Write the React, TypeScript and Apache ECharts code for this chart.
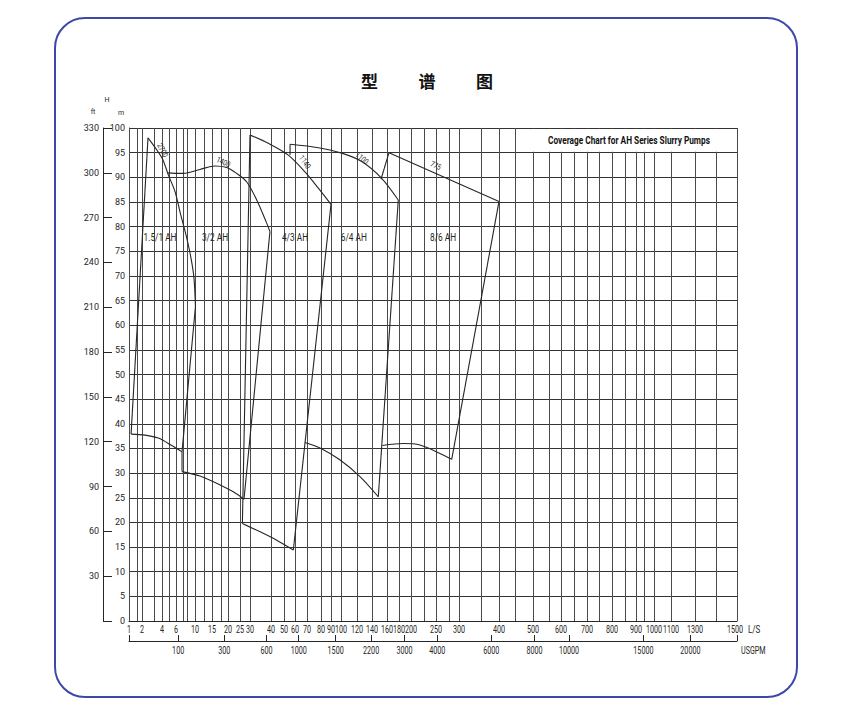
import React, { useEffect, useRef } from "react";
import * as echarts from "echarts";

// Flow ruling of the chart paper: [flow in L/S, distance along the flow axis]
const FLOW_RULING: [number, number][] = [
  [1, 0], [1.5, 8], [2, 13], [3, 25], [4, 33], [5, 40], [6, 47], [7, 54], [8, 58],
  [10, 66], [12, 75], [15, 83], [18, 92], [20, 99], [25, 111], [30, 121], [40, 142],
  [50, 155], [60, 166], [70, 178], [80, 192], [90, 202], [100, 212], [120, 228],
  [140, 243], [160, 258], [180, 270], [200, 282], [225, 295], [250, 307], [275, 320],
  [300, 330], [350, 352], [400, 370], [450, 386], [500, 404], [550, 420], [600, 432],
  [650, 445], [700, 458], [750, 470], [800, 483], [850, 496], [900, 507], [950, 515],
  [1000, 525], [1100, 542], [1300, 566], [1400, 587], [1500, 608],
];
const FLOW_AXIS_LENGTH = 608;

const FLOW_LABELS_LS = [
  1, 2, 4, 6, 10, 15, 20, 25, 30, 40, 50, 60, 70, 80, 90, 100, 120, 140, 160, 180,
  200, 250, 300, 400, 500, 600, 700, 800, 900, 1000, 1100, 1300, 1500,
];
const FLOW_LABELS_USGPM = [100, 300, 600, 1000, 1500, 2200, 3000, 4000, 6000, 8000, 10000, 15000, 20000];
const LS_PER_USGPM = 0.0630902;

// Pump envelopes: [flow L/S, head m]
const AH15_LEFT = [[1.13, 37.9], [2.5, 98.0]];
const AH15_UPPER = [[2.5, 98.0], [4.0, 93.9], [4.9, 90.5], [5.86, 87.1], [6.57, 83.0], [7.75, 78.3], [9.0, 73.6], [9.75, 69.5], [10.1, 63.8]];
const AH15_RIGHT = [[10.1, 63.8], [6.86, 34.3]];
const AH15_LOWER = [[1.13, 37.9], [2.25, 37.7], [3.54, 37.1], [5.39, 35.6], [6.86, 34.3]];

const AH32_UPPER = [[4.8, 90.9], [5.86, 90.8], [7.1, 90.8], [11.1, 91.6], [16, 92.3], [19.6, 92.0], [23.6, 90.8], [28.3, 89.1], [33.2, 85.4], [37.95, 80.7], [39.5, 79.0]];
const AH32_RIGHT = [[39.5, 79.0], [27, 24.7]];
const AH32_LEFT = [[6.86, 34.3], [6.86, 30.3]];
const AH32_LOWER = [[6.86, 30.3], [11.1, 29.4], [17.7, 27.6], [22.2, 26.2], [27, 24.7]];

const AH43_LEFT = [[26.2, 19.8], [30, 98.6]];
const AH43_UPPER = [[30, 98.6], [38.7, 96.9], [53.9, 94.5], [68.3, 91.1], [78.1, 87.8], [90, 84.5]];
const AH43_RIGHT = [[90, 84.5], [58.5, 14.4]];
const AH43_LOWER = [[26.2, 19.8], [34.8, 18.1], [44.4, 16.4], [58.5, 14.4]];

const AH64_LEFT = [[55.5, 94.5], [55.5, 96.7]];
const AH64_UPPER = [[55.5, 96.7], [78.1, 96.0], [100.9, 94.9], [126.3, 93.2], [152.9, 89.8], [178.8, 85.4]];
const AH64_RIGHT = [[178.8, 85.4], [148.4, 25.2]];
const AH64_LOWER = [[68.3, 36.2], [80, 35.0], [98.8, 32.7], [124, 29.3], [148.4, 25.2]];

const AH86_LEFT = [[152, 89.6], [163.3, 95.0]];
const AH86_UPPER = [[163.3, 95.0], [400, 85.1]];
const AH86_RIGHT = [[400, 85.1], [281.8, 32.8]];
const AH86_LOWER = [[153.7, 35.6], [187.2, 36.0], [217.3, 35.7], [257.7, 34.0], [281.8, 32.8]];

const PUMP_NAMES = ["1.5/1 AH", "3/2 AH", "4/3 AH", "6/4 AH", "8/6 AH"];
const PUMP_NAME_AT = [[3.75, 77.9], [16, 77.9], [60, 77.8], [116, 77.8], [263.5, 77.9]];

const SPEED_TEXT = ["2700", "1400", "1140", "1100", "775"];
const SPEED_AT = [[4.1, 95.5], [18.7, 93.1], [68.3, 93.1], [126.7, 93.9], [249.6, 92.4]];
const SPEED_ANGLE = [-62, -25, -55, -40, -25];

const CHART_TITLE = ["型", "谱", "图"];
const BOX_TITLE = "Coverage Chart for AH Series Slurry Pumps";

function flowToAxis(q: number): number {
  const r = FLOW_RULING;
  if (q <= r[0][0]) return r[0][1];
  for (let i = 1; i < r.length; i++) {
    if (q <= r[i][0]) {
      const [q0, p0] = r[i - 1];
      const [q1, p1] = r[i];
      return p0 + ((q - q0) / (q1 - q0)) * (p1 - p0);
    }
  }
  return r[r.length - 1][1];
}

const INK = "#262626";
const FONT = "Roboto, 'Noto Sans', sans-serif";

function outline(points: number[][], curved: boolean) {
  return {
    type: "line",
    xAxisIndex: 0,
    yAxisIndex: 0,
    data: points.map(([q, h]) => [flowToAxis(q), h]),
    symbol: "none",
    showSymbol: false,
    smooth: curved ? 0.3 : false,
    silent: true,
    z: 5,
    lineStyle: { color: INK, width: 1.1 },
  };
}

export default function App() {
  const ref = useRef<HTMLDivElement>(null);

  useEffect(() => {
    if (!ref.current) return;
    const chart = echarts.init(ref.current, undefined, { renderer: "svg" });

    const usgpmTicks = [
      0,
      ...FLOW_LABELS_USGPM.map((g) => flowToAxis(g * LS_PER_USGPM)),
      FLOW_AXIS_LENGTH,
    ];

    const curves = [AH15_UPPER, AH15_LOWER, AH32_UPPER, AH32_LOWER, AH43_UPPER, AH43_LOWER, AH64_UPPER, AH64_LOWER, AH86_LOWER];
    const edges = [AH15_LEFT, AH15_RIGHT, AH32_LEFT, AH32_RIGHT, AH43_LEFT, AH43_RIGHT, AH64_LEFT, AH64_RIGHT, AH86_LEFT, AH86_UPPER, AH86_RIGHT];

    chart.setOption({
      animation: false,
      backgroundColor: "#ffffff",
      grid: { left: 129, top: 128, width: 608, height: 493 },
      xAxis: [
        {
          type: "value", min: 0, max: FLOW_AXIS_LENGTH,
          axisLine: { show: true, onZero: false, lineStyle: { color: INK } },
          axisTick: { show: false }, axisLabel: { show: false }, splitLine: { show: false },
        },
        {
          type: "value", min: 0, max: FLOW_AXIS_LENGTH, position: "bottom", offset: 20,
          axisLine: { show: true, onZero: false, lineStyle: { color: INK } },
          axisTick: { show: true, inside: true, length: 6, customValues: usgpmTicks, lineStyle: { color: INK } },
          axisLabel: { show: false }, splitLine: { show: false },
        },
      ],
      yAxis: [
        {
          type: "value", min: 0, max: 100, interval: 5,
          axisLine: { show: true, onZero: false, lineStyle: { color: INK } },
          axisTick: { show: false },
          axisLabel: { fontSize: 9, margin: 4, color: INK, fontFamily: FONT },
          splitLine: { show: true, lineStyle: { color: "#333333", width: 1 } },
        },
        {
          type: "value", min: 0, max: 330, interval: 30, position: "left", offset: 26,
          axisLine: { show: true, onZero: false, lineStyle: { color: INK } },
          axisTick: { show: true, inside: true, length: 9, lineStyle: { color: INK } },
          axisLabel: {
            fontSize: 9, margin: 4, color: INK, fontFamily: FONT,
            formatter: (v: number) => (v === 0 ? "" : String(v)),
          },
          splitLine: { show: false },
        },
      ],
      series: [
        {
          type: "line",
          xAxisIndex: 0,
          yAxisIndex: 0,
          data: [],
          silent: true,
          z: 1,
          markLine: {
            silent: true,
            symbol: ["none", "none"],
            label: { show: false },
            lineStyle: { color: "#4a4a4a", width: 1, type: "solid" },
            data: FLOW_RULING.map(([q]) => ({ xAxis: flowToAxis(q) })),
          },
        },
        ...curves.map((c) => outline(c, true)),
        ...edges.map((e) => outline(e, false)),
      ],
    });

    const at = (q: number, h: number) =>
      chart.convertToPixel({ xAxisIndex: 0, yAxisIndex: 0 }, [flowToAxis(q), h]) as number[];
    const xAt = (u: number) => chart.convertToPixel({ xAxisIndex: 0 }, u) as number;
    const bottomY = chart.convertToPixel({ yAxisIndex: 0 }, 0) as number;
    const topY = chart.convertToPixel({ yAxisIndex: 0 }, 100) as number;

    const txt = (text: string, x: number, y: number, o: any = {}) => {
      const narrowed = o.scaleX !== undefined;
      return {
        type: "text",
        x, y,
        scaleX: o.scaleX ?? 1,
        rotation: o.rotation ?? 0,
        z: 30,
        silent: true,
        style: {
          text,
          fontSize: o.fontSize ?? 10,
          fontFamily: o.fontFamily ?? FONT,
          fontWeight: o.fontWeight ?? "normal",
          fill: o.fill ?? INK,
          align: o.align ?? "center",
          verticalAlign: "middle",
          // an invisible shadow sends narrowed glyphs through a filter, which keeps them grey-smoothed
          ...(narrowed ? { shadowColor: "rgba(0,0,0,0.01)", shadowBlur: 1 } : {}),
        },
      };
    };

    const elements: any[] = [];

    elements.push({
      type: "rect", z: 0, silent: true,
      shape: { x: 55, y: 18, width: 742, height: 679, r: 30 },
      style: { fill: "transparent", stroke: "#3d48a8", lineWidth: 2 },
    });

    CHART_TITLE.forEach((c, i) =>
      elements.push(txt(c, 369.5 + i * 57.5, 80, { fontSize: 17, fontWeight: "bold", fontFamily: "'Noto Sans CJK SC', sans-serif", fill: "#111" }))
    );

    elements.push(txt("H", 107, 100, { fontSize: 7 }));
    elements.push(txt("ft", 93, 112, { fontSize: 7 }));
    elements.push(txt("m", 121, 113, { fontSize: 7 }));

    // title box in the upper right corner of the grid
    const boxLeft = xAt(flowToAxis(450)) + 1;
    const boxRight = xAt(FLOW_AXIS_LENGTH) - 1;
    const boxBottom = at(450, 95)[1] - 1;
    elements.push({
      type: "rect", z: 20, silent: true,
      shape: { x: boxLeft, y: topY + 1, width: boxRight - boxLeft, height: boxBottom - topY - 1 },
      style: { fill: "#ffffff", stroke: "none" },
    });
    elements.push(txt(BOX_TITLE, (boxLeft + boxRight) / 2 + 3, (topY + boxBottom) / 2 + 0.5, { fontSize: 11.5, fontWeight: "bold", scaleX: 0.72, fill: "#111" }));

    FLOW_LABELS_LS.forEach((q) =>
      elements.push(txt(String(q), xAt(flowToAxis(q)) - (q === 1500 ? 2 : 0), bottomY + 8.5, { fontSize: 10, scaleX: 0.72 }))
    );
    FLOW_LABELS_USGPM.forEach((g) =>
      elements.push(txt(String(g), xAt(flowToAxis(g * LS_PER_USGPM)), bottomY + 30, { fontSize: 10, scaleX: 0.72 }))
    );
    elements.push(txt("L/S", xAt(FLOW_AXIS_LENGTH) + 11, bottomY + 8.5, { fontSize: 10, scaleX: 0.8, align: "left" }));
    elements.push(txt("USGPM", xAt(FLOW_AXIS_LENGTH) + 4, bottomY + 30, { fontSize: 10, scaleX: 0.72, align: "left" }));

    PUMP_NAMES.forEach((n, i) => {
      const [x, y] = at(PUMP_NAME_AT[i][0], PUMP_NAME_AT[i][1]);
      elements.push(txt(n, x, y, { fontSize: 11.5, scaleX: 0.72 }));
    });

    SPEED_TEXT.forEach((s, i) => {
      const [x, y] = at(SPEED_AT[i][0], SPEED_AT[i][1]);
      elements.push(txt(s, x, y, { fontSize: 8, scaleX: 0.8, rotation: (SPEED_ANGLE[i] * Math.PI) / 180 }));
    });

    chart.setOption({ graphic: { elements } });

    return () => chart.dispose();
  }, []);

  return (
    <div
      ref={ref}
      style={{ position: "fixed", left: 0, top: 0, width: 855, height: 720, background: "#fff" }}
    />
  );
}
